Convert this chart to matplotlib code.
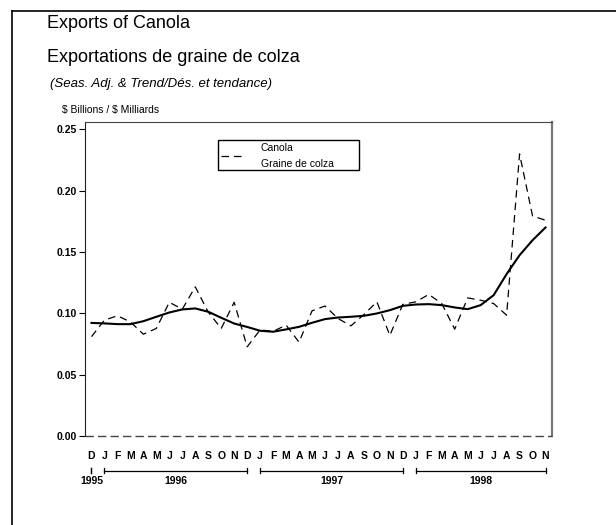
import matplotlib
matplotlib.use("Agg")
import matplotlib.pyplot as plt
from matplotlib.lines import Line2D
from matplotlib.patches import Rectangle
import matplotlib.transforms as mtransforms

months = ["D", "J", "F", "M", "A", "M", "J", "J", "A", "S", "O", "N",
          "D", "J", "F", "M", "A", "M", "J", "J", "A", "S", "O", "N",
          "D", "J", "F", "M", "A", "M", "J", "J", "A", "S", "O", "N"]
# year label, first month index, last month index
years = [("1995", 0, 0), ("1996", 1, 12), ("1997", 13, 24), ("1998", 25, 35)]

seas_adj = [0.081, 0.0945, 0.098, 0.093, 0.083, 0.0877, 0.109, 0.1034, 0.1216, 0.101,
            0.0877, 0.109, 0.0727, 0.0865, 0.0853, 0.0904, 0.0765, 0.102, 0.106, 0.0958,
            0.0898, 0.099, 0.1094, 0.082, 0.1073, 0.1094, 0.1154, 0.108, 0.0871, 0.1126,
            0.1107, 0.108, 0.0985, 0.230, 0.1794, 0.1759]
trend = [0.0922, 0.0918, 0.0912, 0.0912, 0.0936, 0.0972, 0.1007, 0.1032, 0.104, 0.1013,
         0.0964, 0.0917, 0.0889, 0.0858, 0.085, 0.0869, 0.089, 0.0923, 0.0953, 0.0966,
         0.0972, 0.098, 0.0999, 0.1026, 0.1061, 0.1072, 0.1075, 0.1067, 0.1048, 0.1034,
         0.1067, 0.1148, 0.1320, 0.1474, 0.1596, 0.170]
yticks = [0.00, 0.05, 0.10, 0.15, 0.20, 0.25]

plt.rcParams['font.family'] = ['Liberation Sans', 'DejaVu Sans']

fig = plt.figure(figsize=(6.16, 5.25), dpi=100)
W, H = 616, 525
ax = fig.add_axes([85 / W, 1 - 436 / H, (552 - 85) / W, (436 - 122) / H])
AW, AH = 552 - 85, 436 - 122

x = list(range(len(months)))
ax.plot(x, seas_adj, color="black", lw=0.9, ls=(0, (6, 4)), label="Canola\nGraine de colza")
ax.plot(x, trend, color="black", lw=1.5)
ax.plot([-0.5, 35.5], [0, 0], color="#444444", lw=1.0, ls=(0, (6, 3)), clip_on=False, zorder=5)

ax.set_xlim(-0.5, 35.5)
ax.set_ylim(0, 0.256)
ax.set_yticks(yticks)
ax.set_yticklabels([f"{v:.2f}" for v in yticks], fontsize=7.5, fontweight="bold")
ax.tick_params(axis="y", length=4, width=0.8, pad=2)
ax.set_xticks(x)
ax.set_xticklabels(months, fontsize=7.5, fontweight="bold")
ax.tick_params(axis="x", length=0, pad=11)

ax.spines["bottom"].set_visible(False)
ax.spines["left"].set_color("#222222")
ax.spines["top"].set_color("#444444")
ax.spines["right"].set_color("#777777")
ax.spines["right"].set_linewidth(1.6)

# year brackets
trans = mtransforms.blended_transform_factory(ax.transData, ax.transAxes)
yl = -(470.5 - 436) / AH
tk = 2.5 / AH
for name, a, b in years:
    if a != b:
        ax.plot([a, b], [yl, yl], color="black", lw=0.9, transform=trans, clip_on=False)
    ax.plot([a, a], [yl - tk, yl + tk], color="black", lw=0.9, transform=trans, clip_on=False)
    ax.plot([b, b], [yl - tk, yl + tk], color="black", lw=0.9, transform=trans, clip_on=False)
    ax.text((a + b) / 2, -(481 - 436) / AH, name, transform=trans, ha="center", va="center",
            fontsize=7.5, fontweight="bold")

# legend (frame drawn separately to match reference width)
leg = ax.legend(loc="upper left", bbox_to_anchor=((218 - 85) / AW, 1 - (140 - 122) / AH),
                frameon=False, fontsize=7.5, handlelength=2.0,
                borderpad=0.3, handletextpad=1.8, borderaxespad=0)
for t in leg.get_texts():
    t.set_linespacing(1.7)
ax.add_patch(Rectangle(((218 - 85) / AW, 1 - (170 - 122) / AH), (359 - 218) / AW, 30 / AH,
                       transform=ax.transAxes, fill=False, edgecolor="black", lw=1.0, zorder=6))

# titles
fig.text(47 / W, 1 - 24 / H, "Exports of Canola", fontsize=13, va="center", ha="left")
fig.text(47 / W, 1 - 57 / H, "Exportations de graine de colza", fontsize=13, va="center", ha="left")
fig.text(50 / W, 1 - 84 / H, "(Seas. Adj. & Trend/Dés. et tendance)", fontsize=9.5,
         style="italic", va="center", ha="left")
fig.text(62 / W, 1 - 110 / H, r"\$ Billions / \$ Milliards", fontsize=7.5, va="center", ha="left")

# outer frame
fig.add_artist(Line2D([12 / W, 12 / W], [0, 1 - 11 / H], transform=fig.transFigure, color="black", lw=1.2))
fig.add_artist(Line2D([12 / W, 1], [1 - 11 / H, 1 - 11 / H], transform=fig.transFigure, color="black", lw=1.2))

fig.savefig("out.png", dpi=100)
